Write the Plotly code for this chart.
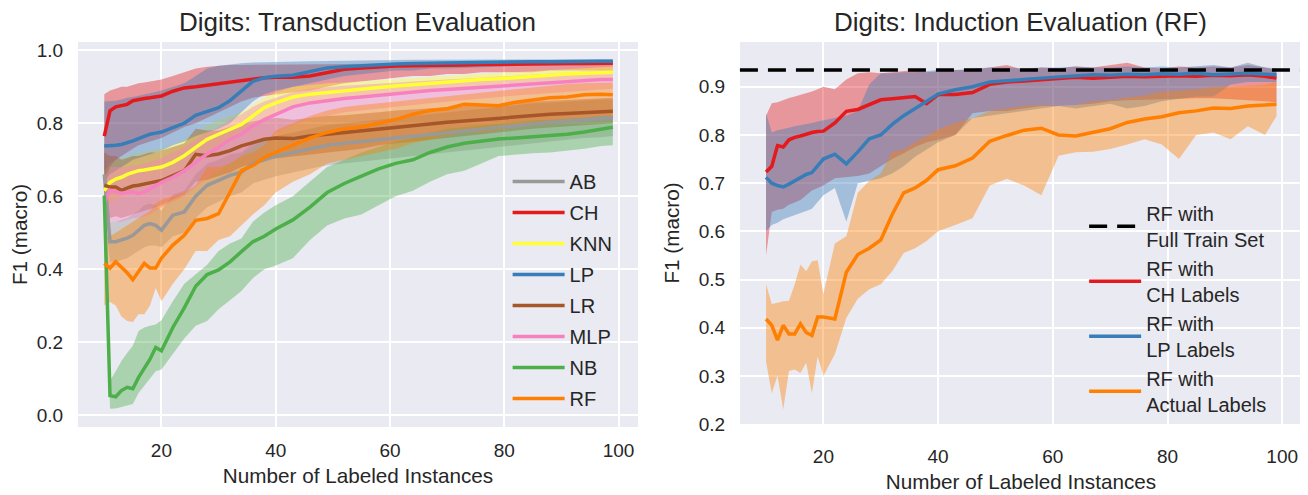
import plotly.graph_objects as go

# ---------------- data ----------------
X = [10, 11, 12, 13, 14, 15, 16, 17, 18, 19, 20,
     22, 24, 26, 28, 30, 32, 34, 36, 38, 40,
     43, 46, 49, 52, 55, 58, 61, 64, 67, 70, 73, 76, 79, 82, 85, 88, 91, 94, 97,
     99]
X_TICKS = [20, 40, 60, 80, 100]
Y_TICKS_LEFT = [0.0, 0.2, 0.4, 0.6, 0.8, 1.0]
Y_TICKS_RIGHT = [0.2, 0.3, 0.4, 0.5, 0.6, 0.7, 0.8, 0.9]

# Transduction evaluation (left)
AB = [0.66, 0.475, 0.475, 0.48, 0.485, 0.493, 0.505, 0.52, 0.525, 0.52, 0.507,
      0.548, 0.557, 0.60, 0.63, 0.643, 0.657, 0.666, 0.69, 0.70, 0.71,
      0.72, 0.73, 0.74, 0.745, 0.75, 0.755, 0.76, 0.765, 0.77, 0.775, 0.78, 0.785, 0.79, 0.795, 0.80, 0.803, 0.806, 0.81, 0.812,
      0.815]
AB_LO = [0.55, 0.42, 0.42, 0.425, 0.43, 0.44, 0.45, 0.46, 0.465, 0.465, 0.46,
         0.49, 0.50, 0.54, 0.57, 0.585, 0.60, 0.61, 0.635, 0.645, 0.655,
         0.665, 0.675, 0.685, 0.69, 0.695, 0.70, 0.705, 0.71, 0.715, 0.72, 0.725, 0.73, 0.735, 0.74, 0.745, 0.75, 0.755, 0.76, 0.762,
         0.765]
AB_HI = [0.75, 0.53, 0.53, 0.535, 0.54, 0.55, 0.56, 0.575, 0.58, 0.575, 0.56,
         0.605, 0.615, 0.66, 0.69, 0.70, 0.715, 0.72, 0.745, 0.755, 0.765,
         0.775, 0.785, 0.795, 0.80, 0.805, 0.81, 0.815, 0.82, 0.825, 0.83, 0.835, 0.84, 0.845, 0.85, 0.855, 0.857, 0.86, 0.862, 0.865,
         0.865]

CH = [0.765, 0.834, 0.845, 0.848, 0.852, 0.862, 0.866, 0.868, 0.87, 0.872, 0.875,
      0.888, 0.897, 0.90, 0.904, 0.908, 0.912, 0.918, 0.922, 0.925, 0.926,
      0.926, 0.93, 0.94, 0.948, 0.952, 0.955, 0.957, 0.958, 0.958, 0.96, 0.96, 0.961, 0.962, 0.962, 0.963, 0.963, 0.964, 0.964, 0.965,
      0.965]
CH_LO = [0.62, 0.68, 0.70, 0.71, 0.72, 0.73, 0.74, 0.745, 0.75, 0.755, 0.76,
         0.775, 0.79, 0.80, 0.815, 0.83, 0.845, 0.86, 0.87, 0.875, 0.88,
         0.885, 0.89, 0.90, 0.91, 0.915, 0.92, 0.925, 0.93, 0.93, 0.935, 0.935, 0.94, 0.94, 0.94, 0.94, 0.945, 0.945, 0.945, 0.945,
         0.945]
CH_HI = [0.88, 0.89, 0.895, 0.90, 0.90, 0.905, 0.91, 0.912, 0.915, 0.918, 0.92,
         0.93, 0.94, 0.95, 0.955, 0.958, 0.96, 0.96, 0.96, 0.96, 0.961,
         0.961, 0.962, 0.962, 0.963, 0.963, 0.964, 0.964, 0.965, 0.965, 0.966, 0.966, 0.966, 0.967, 0.967, 0.967, 0.968, 0.968, 0.968, 0.968,
         0.968]

KNN = [0.615, 0.638, 0.647, 0.652, 0.66, 0.666, 0.67, 0.672, 0.675, 0.678, 0.68,
       0.693, 0.711, 0.734, 0.756, 0.77, 0.784, 0.797, 0.82, 0.843, 0.856,
       0.872, 0.88, 0.885, 0.89, 0.894, 0.898, 0.902, 0.906, 0.91, 0.914, 0.917, 0.92, 0.922, 0.926, 0.93, 0.932, 0.935, 0.937, 0.94,
       0.94]
KNN_LO = [0.56, 0.58, 0.59, 0.60, 0.61, 0.615, 0.62, 0.625, 0.63, 0.635, 0.64,
          0.655, 0.675, 0.70, 0.72, 0.735, 0.75, 0.765, 0.79, 0.81, 0.825,
          0.845, 0.855, 0.862, 0.868, 0.873, 0.878, 0.883, 0.888, 0.892, 0.897, 0.90, 0.904, 0.907, 0.91, 0.915, 0.918, 0.92, 0.922, 0.925,
          0.925]
KNN_HI = [0.67, 0.69, 0.70, 0.705, 0.71, 0.715, 0.72, 0.722, 0.725, 0.728, 0.73,
          0.74, 0.755, 0.775, 0.795, 0.81, 0.82, 0.83, 0.85, 0.87, 0.885,
          0.90, 0.905, 0.91, 0.912, 0.915, 0.918, 0.921, 0.925, 0.928, 0.931, 0.934, 0.936, 0.938, 0.941, 0.944, 0.946, 0.949, 0.951, 0.954,
          0.955]

LP = [0.738, 0.738, 0.74, 0.742, 0.746, 0.752, 0.758, 0.764, 0.77, 0.773, 0.776,
      0.788, 0.80, 0.822, 0.833, 0.843, 0.862, 0.89, 0.915, 0.925, 0.929,
      0.932, 0.942, 0.952, 0.955, 0.958, 0.962, 0.963, 0.964, 0.965, 0.966, 0.967, 0.967, 0.968, 0.968, 0.969, 0.969, 0.97, 0.97, 0.97,
      0.97]
LP_LO = [0.64, 0.66, 0.67, 0.68, 0.69, 0.70, 0.705, 0.71, 0.715, 0.72, 0.725,
         0.74, 0.75, 0.765, 0.775, 0.785, 0.80, 0.83, 0.86, 0.88, 0.89,
         0.90, 0.91, 0.92, 0.93, 0.935, 0.94, 0.945, 0.945, 0.95, 0.95, 0.952, 0.955, 0.955, 0.957, 0.958, 0.958, 0.96, 0.96, 0.96,
         0.96]
LP_HI = [0.86, 0.86, 0.862, 0.865, 0.87, 0.872, 0.875, 0.878, 0.882, 0.886, 0.89,
         0.90, 0.91, 0.93, 0.95, 0.958, 0.962, 0.965, 0.967, 0.968, 0.968,
         0.969, 0.97, 0.971, 0.972, 0.972, 0.973, 0.973, 0.974, 0.974, 0.974, 0.975, 0.975, 0.975, 0.975, 0.976, 0.976, 0.976, 0.976, 0.976,
         0.976]

LR = [0.63, 0.625, 0.625, 0.616, 0.622, 0.628, 0.63, 0.634, 0.638, 0.64, 0.643,
      0.657, 0.67, 0.715, 0.711, 0.716, 0.725, 0.738, 0.747, 0.756, 0.76,
      0.758, 0.765, 0.77, 0.774, 0.778, 0.784, 0.79, 0.794, 0.798, 0.803, 0.806, 0.81, 0.814, 0.818, 0.822, 0.825, 0.827, 0.83, 0.832,
      0.833]
LR_LO = [0.54, 0.54, 0.545, 0.54, 0.545, 0.55, 0.555, 0.56, 0.565, 0.57, 0.575,
         0.59, 0.605, 0.64, 0.645, 0.655, 0.665, 0.68, 0.69, 0.70, 0.705,
         0.71, 0.715, 0.72, 0.725, 0.73, 0.74, 0.745, 0.75, 0.755, 0.76, 0.765, 0.77, 0.775, 0.78, 0.785, 0.79, 0.792, 0.795, 0.798,
         0.80]
LR_HI = [0.72, 0.71, 0.71, 0.70, 0.705, 0.71, 0.71, 0.715, 0.72, 0.72, 0.725,
         0.735, 0.745, 0.785, 0.78, 0.78, 0.79, 0.80, 0.805, 0.81, 0.815,
         0.81, 0.815, 0.82, 0.822, 0.825, 0.83, 0.835, 0.838, 0.84, 0.845, 0.848, 0.85, 0.853, 0.856, 0.86, 0.862, 0.864, 0.866, 0.868,
         0.87]

MLP = [0.584, 0.616, 0.612, 0.608, 0.61, 0.612, 0.607, 0.612, 0.62, 0.63, 0.638,
       0.652, 0.67, 0.693, 0.716, 0.734, 0.756, 0.77, 0.793, 0.81, 0.824,
       0.845, 0.856, 0.863, 0.868, 0.872, 0.877, 0.882, 0.886, 0.89, 0.893, 0.896, 0.899, 0.903, 0.907, 0.91, 0.913, 0.915, 0.917, 0.92,
       0.92]
MLP_LO = [0.52, 0.53, 0.53, 0.53, 0.535, 0.54, 0.54, 0.545, 0.55, 0.56, 0.57,
          0.585, 0.60, 0.625, 0.65, 0.67, 0.69, 0.71, 0.735, 0.755, 0.77,
          0.795, 0.81, 0.82, 0.83, 0.835, 0.84, 0.845, 0.85, 0.855, 0.86, 0.865, 0.868, 0.872, 0.876, 0.88, 0.884, 0.887, 0.89, 0.893,
          0.895]
MLP_HI = [0.65, 0.68, 0.68, 0.68, 0.68, 0.685, 0.685, 0.69, 0.695, 0.70, 0.705,
          0.72, 0.735, 0.755, 0.775, 0.79, 0.81, 0.825, 0.845, 0.86, 0.87,
          0.885, 0.895, 0.90, 0.903, 0.906, 0.909, 0.912, 0.915, 0.918, 0.92, 0.922, 0.925, 0.928, 0.932, 0.935, 0.937, 0.94, 0.942, 0.945,
          0.945]

NB = [0.602, 0.053, 0.05, 0.067, 0.076, 0.072, 0.103, 0.13, 0.153, 0.185, 0.176,
      0.24, 0.294, 0.353, 0.385, 0.398, 0.42, 0.448, 0.475, 0.49, 0.51,
      0.535, 0.57, 0.61, 0.635, 0.655, 0.675, 0.69, 0.70, 0.72, 0.735, 0.745, 0.752, 0.757, 0.76, 0.763, 0.766, 0.77, 0.776, 0.785,
      0.789]
NB_LO = [0.59, 0.017, 0.018, 0.022, 0.025, 0.03, 0.06, 0.08, 0.10, 0.12, 0.125,
         0.166, 0.21, 0.245, 0.258, 0.29, 0.315, 0.34, 0.375, 0.40, 0.41,
         0.43, 0.48, 0.52, 0.539, 0.55, 0.575, 0.60, 0.615, 0.64, 0.66, 0.67, 0.69, 0.71, 0.715, 0.718, 0.72, 0.725, 0.73, 0.738,
         0.74]
NB_HI = [0.615, 0.094, 0.12, 0.148, 0.17, 0.19, 0.23, 0.24, 0.245, 0.248, 0.26,
         0.312, 0.36, 0.385, 0.412, 0.45, 0.47, 0.484, 0.53, 0.555, 0.575,
         0.60, 0.64, 0.68, 0.70, 0.72, 0.735, 0.75, 0.76, 0.775, 0.785, 0.79, 0.795, 0.80, 0.805, 0.808, 0.81, 0.812, 0.815, 0.82,
         0.82]

RF = [0.416, 0.403, 0.42, 0.405, 0.39, 0.371, 0.394, 0.416, 0.403, 0.403, 0.43,
      0.466, 0.493, 0.534, 0.539, 0.552, 0.611, 0.67, 0.684, 0.706, 0.72,
      0.74, 0.76, 0.775, 0.785, 0.79, 0.80, 0.81, 0.825, 0.835, 0.84, 0.852, 0.85, 0.848, 0.858, 0.865, 0.87, 0.872, 0.878, 0.88,
      0.878]
RF_LO = [0.30, 0.31, 0.30, 0.27, 0.258, 0.255, 0.276, 0.276, 0.30, 0.348, 0.312,
         0.36, 0.40, 0.45, 0.45, 0.48, 0.49, 0.52, 0.55, 0.575, 0.61,
         0.64, 0.66, 0.69, 0.70, 0.71, 0.72, 0.73, 0.745, 0.755, 0.765, 0.775, 0.775, 0.78, 0.79, 0.80, 0.805, 0.81, 0.815, 0.82,
         0.82]
RF_HI = [0.49, 0.49, 0.50, 0.51, 0.52, 0.53, 0.54, 0.55, 0.56, 0.58, 0.59,
         0.60, 0.61, 0.63, 0.68, 0.68, 0.69, 0.71, 0.72, 0.74, 0.78,
         0.80, 0.82, 0.835, 0.845, 0.85, 0.855, 0.86, 0.865, 0.87, 0.875, 0.88, 0.885, 0.89, 0.895, 0.90, 0.905, 0.908, 0.91, 0.912,
         0.912]

# Induction evaluation (right)
FULL_TRAIN = 0.935
I_CH = [0.723, 0.735, 0.778, 0.775, 0.79, 0.795, 0.798, 0.802, 0.805, 0.807, 0.808,
        0.825, 0.849, 0.853, 0.863, 0.873, 0.875, 0.877, 0.88, 0.865, 0.884,
        0.884, 0.888, 0.905, 0.91, 0.912, 0.915, 0.918, 0.92, 0.918, 0.92, 0.922, 0.921, 0.922, 0.923, 0.922, 0.924, 0.923, 0.925, 0.922,
        0.918]
I_CH_LO = [0.55, 0.64, 0.645, 0.647, 0.655, 0.66, 0.665, 0.675, 0.685, 0.69, 0.695,
           0.71, 0.712, 0.715, 0.72, 0.735, 0.75, 0.762, 0.775, 0.785, 0.79,
           0.80, 0.845, 0.85, 0.85, 0.855, 0.86, 0.86, 0.862, 0.865, 0.87, 0.872, 0.874, 0.875, 0.875, 0.876, 0.876, 0.875, 0.872, 0.87,
           0.868]
I_CH_HI = [0.84, 0.866, 0.868, 0.873, 0.877, 0.88, 0.883, 0.887, 0.89, 0.895, 0.90,
           0.895, 0.915, 0.928, 0.93, 0.928, 0.93, 0.932, 0.935, 0.93, 0.932,
           0.935, 0.935, 0.94, 0.945, 0.935, 0.94, 0.938, 0.942, 0.94, 0.945, 0.95, 0.94, 0.938, 0.942, 0.94, 0.942, 0.94, 0.945, 0.94,
           0.935]

I_LP = [0.712, 0.70, 0.695, 0.692, 0.698, 0.705, 0.712, 0.718, 0.722, 0.735, 0.75,
        0.76, 0.74, 0.765, 0.792, 0.80, 0.822, 0.84, 0.855, 0.87, 0.885,
        0.894, 0.90, 0.91, 0.912, 0.915, 0.918, 0.92, 0.922, 0.925, 0.924, 0.926, 0.925, 0.927, 0.926, 0.928, 0.925, 0.927, 0.928, 0.926,
        0.925]
I_LP_LO = [0.60, 0.613, 0.618, 0.625, 0.63, 0.634, 0.638, 0.642, 0.647, 0.66, 0.675,
           0.69, 0.62, 0.70, 0.705, 0.71, 0.72, 0.735, 0.755, 0.77, 0.785,
           0.80, 0.835, 0.84, 0.845, 0.85, 0.855, 0.86, 0.855, 0.86, 0.865, 0.855, 0.86, 0.87, 0.875, 0.88, 0.88, 0.905, 0.91, 0.91,
           0.91]
I_LP_HI = [0.845, 0.805, 0.81, 0.812, 0.815, 0.818, 0.82, 0.822, 0.825, 0.828, 0.83,
           0.835, 0.84, 0.85, 0.905, 0.928, 0.928, 0.93, 0.93, 0.932, 0.935,
           0.935, 0.938, 0.94, 0.94, 0.938, 0.94, 0.94, 0.942, 0.94, 0.94, 0.942, 0.94, 0.942, 0.94, 0.942, 0.945, 0.94, 0.95, 0.94,
           0.938]

I_RF = [0.418, 0.405, 0.374, 0.405, 0.387, 0.387, 0.408, 0.39, 0.384, 0.422, 0.422,
        0.418, 0.515, 0.552, 0.565, 0.582, 0.635, 0.68, 0.69, 0.706, 0.728,
        0.736, 0.752, 0.787, 0.799, 0.81, 0.814, 0.80, 0.798, 0.805, 0.813, 0.826, 0.833, 0.838, 0.846, 0.85, 0.856, 0.855, 0.86, 0.862,
        0.864]
I_RF_LO = [0.33, 0.264, 0.30, 0.23, 0.31, 0.313, 0.306, 0.327, 0.264, 0.34, 0.30,
           0.345, 0.42, 0.46, 0.48, 0.49, 0.517, 0.555, 0.565, 0.58, 0.60,
           0.613, 0.627, 0.695, 0.709, 0.695, 0.675, 0.757, 0.764, 0.765, 0.771, 0.78, 0.791, 0.78, 0.75, 0.80, 0.805, 0.791, 0.818, 0.80,
           0.839]
I_RF_HI = [0.49, 0.449, 0.452, 0.455, 0.456, 0.49, 0.531, 0.517, 0.538, 0.54, 0.47,
           0.575, 0.59, 0.68, 0.705, 0.72, 0.765, 0.77, 0.785, 0.798, 0.812,
           0.825, 0.835, 0.85, 0.855, 0.86, 0.862, 0.86, 0.862, 0.87, 0.872, 0.878, 0.882, 0.89, 0.892, 0.895, 0.90, 0.90, 0.902, 0.905,
           0.91]

# ---------------- style ----------------
FONT = "Liberation Sans, Arial, Helvetica, sans-serif"
TXT = "#262626"
BG = "#EAEAF2"
BAND_ALPHA = 0.4
LINE_W = 3.5

COLORS = {"AB": "#999999", "CH": "#e41a1c", "KNN": "#ffff33", "LP": "#377eb8",
          "LR": "#a65628", "MLP": "#f781bf", "NB": "#4daf4a", "RF": "#ff7f00"}


def rgba(hexc, a):
    h = hexc.lstrip("#")
    return "rgba(%d,%d,%d,%.2f)" % (int(h[0:2], 16), int(h[2:4], 16), int(h[4:6], 16), a)


left_series = [("AB", AB, AB_LO, AB_HI), ("CH", CH, CH_LO, CH_HI),
               ("KNN", KNN, KNN_LO, KNN_HI), ("LP", LP, LP_LO, LP_HI),
               ("LR", LR, LR_LO, LR_HI), ("MLP", MLP, MLP_LO, MLP_HI),
               ("NB", NB, NB_LO, NB_HI), ("RF", RF, RF_LO, RF_HI)]
right_series = [("RF with<br>CH Labels", "CH", I_CH, I_CH_LO, I_CH_HI),
                ("RF with<br>LP Labels", "LP", I_LP, I_LP_LO, I_LP_HI),
                ("RF with<br>Actual Labels", "RF", I_RF, I_RF_LO, I_RF_HI)]

fig = go.Figure()

# left: bands then lines
for name, m, lo, hi in left_series:
    fig.add_trace(go.Scatter(x=X + X[::-1], y=hi + lo[::-1], fill="toself",
                             fillcolor=rgba(COLORS[name], BAND_ALPHA), line=dict(width=0),
                             mode="lines", hoverinfo="skip", showlegend=False,
                             xaxis="x", yaxis="y"))
for name, m, lo, hi in left_series:
    fig.add_trace(go.Scatter(x=X, y=m, mode="lines", name=name,
                             line=dict(color=COLORS[name], width=LINE_W),
                             legend="legend", legendgroup=name,
                             xaxis="x", yaxis="y"))

# right: legend entry for the full-train reference line
DASH = "18px,10px"
fig.add_trace(go.Scatter(x=[None], y=[None], mode="lines", name="RF with<br>Full Train Set",
                         line=dict(color="black", width=LINE_W, dash=DASH),
                         legend="legend2", xaxis="x2", yaxis="y2"))
for name, key, m, lo, hi in right_series:
    fig.add_trace(go.Scatter(x=X + X[::-1], y=hi + lo[::-1], fill="toself",
                             fillcolor=rgba(COLORS[key], BAND_ALPHA), line=dict(width=0),
                             mode="lines", hoverinfo="skip", showlegend=False,
                             xaxis="x2", yaxis="y2"))
for name, key, m, lo, hi in right_series:
    fig.add_trace(go.Scatter(x=X, y=m, mode="lines", name=name,
                             line=dict(color=COLORS[key], width=LINE_W),
                             legend="legend2", xaxis="x2", yaxis="y2"))

fig.add_shape(type="line", xref="x2 domain", x0=0, x1=1, yref="y2",
              y0=FULL_TRAIN, y1=FULL_TRAIN, layer="above",
              line=dict(color="black", width=LINE_W, dash=DASH))

axis_common = dict(showgrid=True, gridcolor="white", gridwidth=1.6, zeroline=False,
                   showline=False, ticks="outside", tickcolor="rgba(0,0,0,0)",
                   tickfont=dict(size=19, color=TXT))

fig.update_layout(
    width=1300, height=487,
    margin=dict(l=70, r=6, t=34, b=65),
    paper_bgcolor="white", plot_bgcolor=BG,
    font=dict(family=FONT, color=TXT, size=19),
    xaxis=dict(domain=[0, 0.4575], range=[5.4, 103.4], tickvals=X_TICKS, ticklen=6,
               anchor="y",
               title=dict(text="Number of Labeled Instances", font=dict(size=20.7), standoff=8),
               **axis_common),
    yaxis=dict(domain=[0, 1], range=[-0.033, 1.023], tickvals=Y_TICKS_LEFT, tickformat=".1f",
               ticklen=10, anchor="x",
               title=dict(text="F1 (macro)", font=dict(size=20.7), standoff=5),
               **axis_common),
    xaxis2=dict(domain=[0.5408, 1], range=[5.45, 103.45], tickvals=X_TICKS, ticklen=15,
                anchor="y2",
                title=dict(text="Number of Labeled Instances", font=dict(size=20.7), standoff=8),
                **axis_common),
    yaxis2=dict(domain=[0.0077, 1], range=[0.2, 0.993], tickvals=Y_TICKS_RIGHT, tickformat=".1f",
                ticklen=10, anchor="x2",
                title=dict(text="F1 (macro)", font=dict(size=20.7), standoff=13),
                **axis_common),
    legend=dict(x=0.351, y=0.688, xanchor="left", yanchor="top", bgcolor="rgba(0,0,0,0)",
                borderwidth=0, font=dict(size=20, color=TXT), itemwidth=52,
                traceorder="grouped", tracegroupgap=2),
    legend2=dict(x=0.822, y=0.606, xanchor="left", yanchor="top", bgcolor="rgba(0,0,0,0)",
                 borderwidth=0, font=dict(size=20, color=TXT), itemwidth=52),
    annotations=[
        dict(text="Digits: Transduction Evaluation", x=0.4575 / 2, y=1.0515, xref="paper",
             yref="paper", showarrow=False, xanchor="center", yanchor="middle",
             font=dict(size=26, color=TXT)),
        dict(text="Digits: Induction Evaluation (RF)", x=(0.5408 + 1) / 2, y=1.0515,
             xref="paper", yref="paper", showarrow=False, xanchor="center", yanchor="middle",
             font=dict(size=26, color=TXT)),
    ],
)

fig.write_html("out.html")
